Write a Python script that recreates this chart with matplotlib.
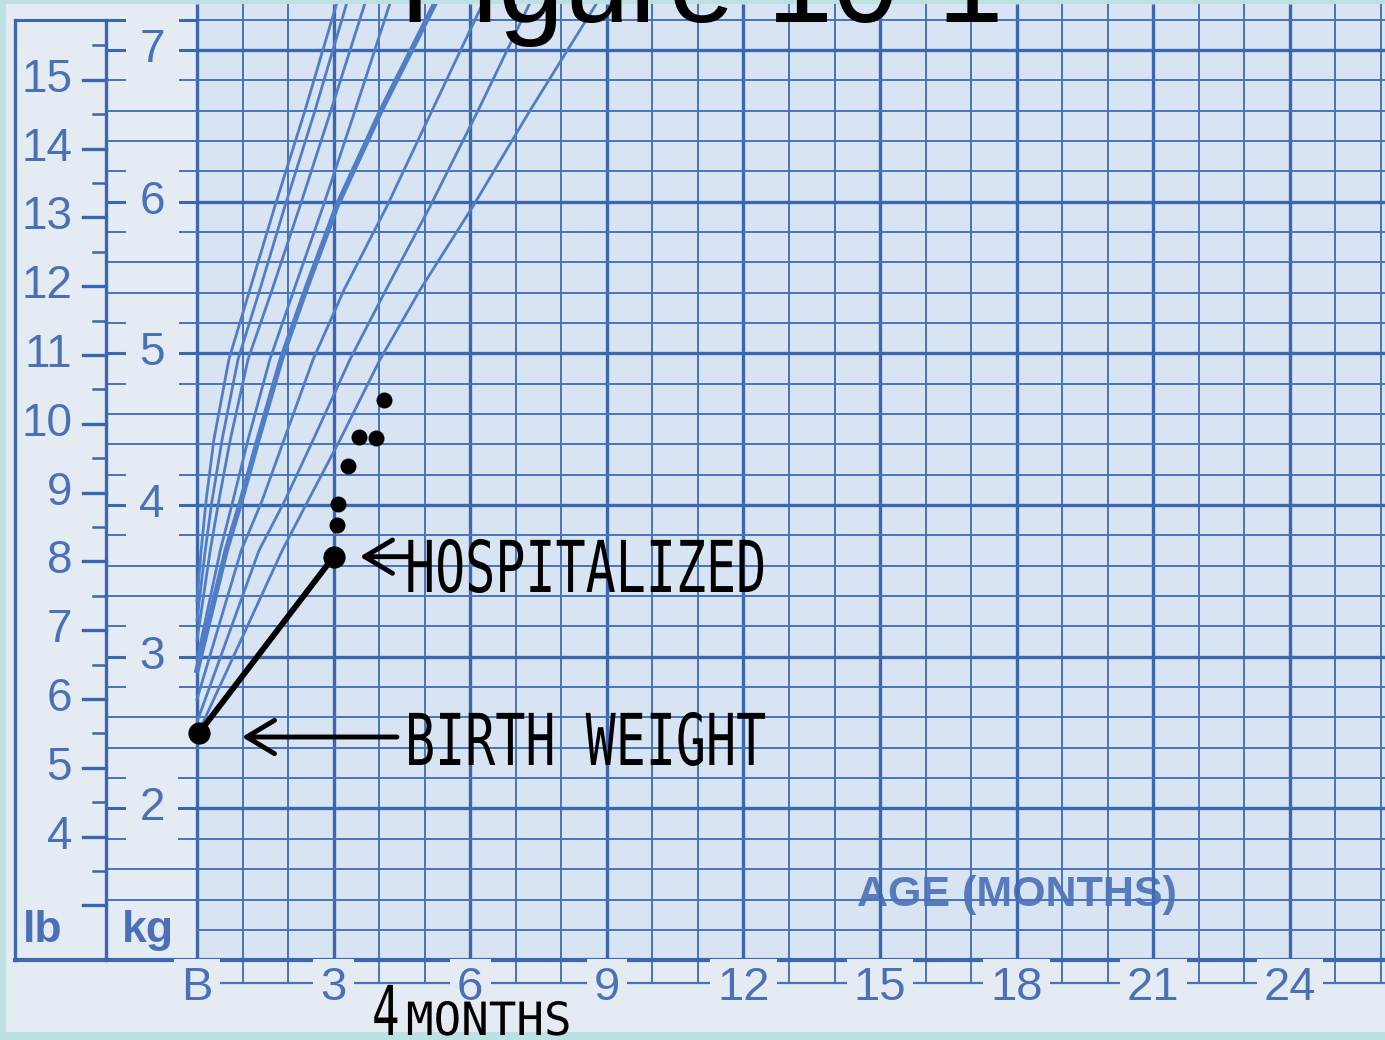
import numpy as np
import matplotlib
matplotlib.use("Agg")
import matplotlib.pyplot as plt
from matplotlib import patheffects
from matplotlib.transforms import Affine2D
from matplotlib.patches import Rectangle

# ---------------- data ----------------
age_ticks = [0, 3, 6, 9, 12, 15, 18, 21, 24]
age_labels = ["B", "3", "6", "9", "12", "15", "18", "21", "24"]
lb_ticks = [4, 5, 6, 7, 8, 9, 10, 11, 12, 13, 14, 15]
kg_ticks = [2, 3, 4, 5, 6, 7]

# reference growth curves (age in months, weight in kg)
curve_a_age = [0.00, 0.09, 0.20, 0.37, 0.70, 1.16, 1.71, 2.37, 3.07]
curve_a_kg = [3.37, 3.70, 4.03, 4.43, 4.96, 5.42, 5.97, 6.60, 7.31]
curve_b_age = [0.00, 0.18, 0.33, 0.55, 0.90, 1.38, 1.93, 2.59, 3.29]
curve_b_kg = [3.24, 3.70, 4.03, 4.43, 4.96, 5.42, 5.97, 6.60, 7.31]
curve_c_age = [0.00, 0.29, 0.48, 0.73, 1.12, 1.65, 2.26, 2.94, 3.69]
curve_c_kg = [3.11, 3.70, 4.03, 4.43, 4.96, 5.42, 5.97, 6.60, 7.31]
curve_d_age = [0.00, 0.51, 0.79, 1.12, 1.60, 2.13, 2.77, 3.47, 4.24]
curve_d_kg = [2.98, 3.70, 4.03, 4.43, 4.96, 5.42, 5.97, 6.60, 7.31]
curve_e_age = [0.00, 0.64, 0.97, 1.34, 1.85, 2.39, 3.07, 4.04, 5.23]   # heavy curve
curve_e_kg = [2.91, 3.70, 4.03, 4.43, 4.96, 5.42, 5.97, 6.60, 7.31]
curve_f_age = [0.00, 0.97, 1.43, 1.91, 2.55, 3.23, 4.17, 5.16, 6.28]
curve_f_kg = [2.72, 3.70, 4.03, 4.43, 4.96, 5.42, 5.97, 6.60, 7.31]
curve_g_age = [0.00, 1.36, 1.93, 2.55, 3.36, 4.15, 5.12, 6.17, 7.31]
curve_g_kg = [2.57, 3.70, 4.03, 4.43, 4.96, 5.42, 5.97, 6.60, 7.31]
curve_h_age = [0.00, 1.87, 2.44, 3.14, 4.02, 4.90, 6.06, 7.31, 8.78]
curve_h_kg = [2.48, 3.70, 4.03, 4.43, 4.96, 5.42, 5.97, 6.60, 7.31]

# patient
patient_age = [0.05, 3.00]          # birth, hospitalized
patient_kg = [2.50, 3.66]
followup_age = [3.07, 3.10, 3.32, 3.56, 3.93, 4.11]
followup_kg = [3.87, 4.01, 4.26, 4.45, 4.44, 4.69]

# ---------------- layout helpers ----------------
W, H = 1385, 1040
X0PX, XSCALE = 197.0, 45.54     # pixel of birth line, pixels per month
Y7PX, YSCALE = 50.0, 151.7      # pixel of 7 kg line, pixels per kg


def mon(px):
    return (px - X0PX) / XSCALE


def kgy(py):
    return 7 - (py - Y7PX) / YSCALE


LB_PER_KG = 2.20462

teal = "#bde0e3"
paper = "#e5ebf3"
plotbg = "#d9e4f2"
grid_c = "#4873bb"
grid_dark = "#3b66b0"
curve_c = "#4f7ec6"
label_c = "#4a70b6"

fig = plt.figure(figsize=(W / 100, H / 100), dpi=100)
fig.patch.set_facecolor(teal)
px_l, px_r, px_t, px_b = 6, 1385, 4, 1032
ax = fig.add_axes([px_l / W, 1 - px_b / H, (px_r - px_l) / W, (px_b - px_t) / H])
ax.set_xlim(mon(px_l), mon(px_r))
ax.set_ylim(kgy(px_b), kgy(px_t))
ax.axis("off")
xmin, xmax = ax.get_xlim()
ymin, ymax = ax.get_ylim()

# backgrounds
ax.add_patch(Rectangle((0, 0), 1, 1, transform=ax.transAxes, fc=paper, ec="none", zorder=0))
ax.add_patch(Rectangle((0, 1.0), xmax, ymax - 1.0, fc=plotbg, ec="none", zorder=0.2))

# ---------------- grid ----------------
for m in range(0, 27):
    if m > xmax:
        break
    thick = (m % 3 == 0)
    ax.plot([m, m], [kgy(983), ymax], color=grid_dark if thick else grid_c,
            lw=2.4 if thick else 1.4, zorder=2, solid_capstyle="butt")

for k in np.round(np.arange(1.2, 7.21, 0.2), 2):
    thick = abs(k - round(k)) < 1e-6
    ax.plot([0, xmax], [k, k], color=grid_dark if thick else grid_c,
            lw=2.4 if thick else 1.4, zorder=2)
    if k >= 1.39:
        ax.plot([-2, 0], [k, k], color=grid_dark if thick else grid_c,
                lw=2.2 if thick else 1.4, zorder=2)

# bottom axis line + frame of left panel
ax.plot([-4, xmax], [1.0, 1.0], color=grid_dark, lw=3.0, zorder=2.5)
ax.plot([-4, -4], [1.0, 7.2], color=grid_dark, lw=2.4, zorder=2.5)
ax.plot([-2, -2], [1.0, 7.2], color=grid_dark, lw=2.4, zorder=2.5)
ax.plot([-4, 0], [7.2, 7.2], color=grid_dark, lw=2.2, zorder=2.5)

# bottom tick line
ax.plot([0, xmax], [kgy(983), kgy(983)], color=grid_c, lw=1.6, zorder=2)

# lb ticks
for lbv in np.arange(3, 15.6, 0.5):
    y = lbv / LB_PER_KG
    major = abs(lbv - round(lbv)) < 1e-6
    ax.plot([mon(83) if major else mon(93), -2], [y, y], color=grid_dark,
            lw=2.4 if major else 1.8, zorder=2.5)

# ---------------- labels ----------------
lab_font = dict(family="Liberation Sans", color=label_c)
for lbv in lb_ticks:
    ax.text(mon(72), lbv / LB_PER_KG, str(lbv), ha="right", va="center",
            fontsize=33, zorder=6, **lab_font)
for k in kg_ticks:
    ax.text(mon(152), k, str(k), ha="center", va="center", fontsize=33, zorder=6,
            bbox=dict(boxstyle="square,pad=0.3", fc=paper, ec="none"), **lab_font)
for m, lab in zip(age_ticks, age_labels):
    ax.text(m, kgy(988), lab, ha="center", va="center", fontsize=34, zorder=6,
            bbox=dict(boxstyle="square,pad=0.15", fc=paper, ec="none"), **lab_font)

ax.text(mon(43), kgy(942), "lb", ha="center", va="baseline", fontsize=32,
        fontweight="bold", zorder=6, **lab_font)
ax.text(mon(148), kgy(942), "kg", ha="center", va="baseline", fontsize=32,
        fontweight="bold", zorder=6, **lab_font)
ax.text(18.0, kgy(895), "AGE (MONTHS)", ha="center", va="center", fontsize=31,
        fontweight="bold", zorder=1.5, alpha=0.9, **lab_font)

# ---------------- growth curves ----------------
curves = [
    (curve_a_age, curve_a_kg, 2.0),
    (curve_b_age, curve_b_kg, 2.0),
    (curve_c_age, curve_c_kg, 2.0),
    (curve_d_age, curve_d_kg, 2.0),
    (curve_e_age, curve_e_kg, 3.9),
    (curve_f_age, curve_f_kg, 2.0),
    (curve_g_age, curve_g_kg, 2.0),
    (curve_h_age, curve_h_kg, 2.0),
]
for xa, ya, lw in curves:
    ax.plot(xa, ya, color=curve_c, lw=lw, zorder=3, solid_joinstyle="round")

# ---------------- patient ----------------
ax.plot(patient_age, patient_kg, color="black", lw=4.2, zorder=5, solid_capstyle="round")
ax.plot(patient_age, patient_kg, "o", color="black", ms=16, zorder=5.5, mec="none")
ax.plot(followup_age, followup_kg, "o", color="black", ms=11.5, zorder=5.5, mec="none")

arrow = dict(arrowstyle="->,head_length=1.0,head_width=0.6", mutation_scale=20,
             lw=3.5, color="black", shrinkA=0, shrinkB=0)
ax.annotate("", xy=(mon(360), patient_kg[1]), xytext=(mon(410), patient_kg[1]),
            arrowprops=arrow, zorder=6)
ax.annotate("", xy=(mon(242), kgy(737)), xytext=(mon(397), kgy(737)),
            arrowprops=arrow, zorder=6)


class VStretch(patheffects.AbstractPathEffect):
    """Stretch glyphs vertically about their baseline (lettering-guide look)."""

    def __init__(self, sy):
        super().__init__()
        self.sy = sy

    def draw_path(self, renderer, gc, tpath, affine, rgbFace=None):
        renderer.draw_path(gc, tpath, Affine2D().scale(1.0, self.sy) + affine, rgbFace)


mono = "DejaVu Sans Mono"
ax.text(mon(405), kgy(592), "HOSPITALIZED", family=mono, fontsize=36, color="black",
        ha="left", va="baseline", zorder=7, path_effects=[VStretch(1.43)])
ax.text(mon(405), kgy(765), "BIRTH WEIGHT", family=mono, fontsize=36, color="black",
        ha="left", va="baseline", zorder=7, path_effects=[VStretch(1.43)])
ax.text(mon(372), kgy(1035), "4", family=mono, fontsize=33, color="black",
        ha="left", va="baseline", zorder=7, path_effects=[VStretch(1.5)])
ax.text(mon(406), kgy(1035), "MONTHS", family=mono, fontsize=33, color="black",
        ha="left", va="baseline", zorder=7, path_effects=[VStretch(1.0)])

# clipped figure title at the very top
fig.text(400 / W, 1 - 22 / H, "Figure 10-1", family="Liberation Sans", fontsize=85,
         color="black", ha="left", va="baseline", zorder=10)

fig.savefig("out.png", dpi=100, facecolor=teal)
